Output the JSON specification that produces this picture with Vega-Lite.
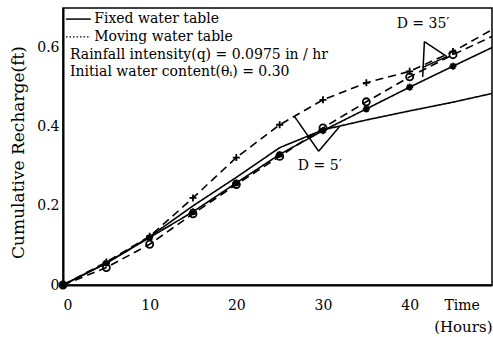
{
  "$schema": "https://vega.github.io/schema/vega-lite/v6.json",
  "width": 429,
  "height": 277,
  "autosize": "none",
  "padding": {"left": 63, "top": 8, "right": 1, "bottom": 52},
  "background": "white",
  "config": {
    "font": "DejaVu Serif",
    "view": {"stroke": "black", "strokeWidth": 1.5},
    "axis": {"grid": false, "domainColor": "black", "domainWidth": 2, "ticks": false, "labelColor": "black", "titleColor": "black", "labelFont": "DejaVu Serif", "titleFont": "DejaVu Serif", "labelFontSize": 13, "titleFontWeight": "normal"}
  },
  "datasets": {
    "curves": [
      {"series": "D5_moving", "t": 0, "r": 0}, {"series": "D5_moving", "t": 5, "r": 0.058}, {"series": "D5_moving", "t": 10, "r": 0.123}, {"series": "D5_moving", "t": 15, "r": 0.22}, {"series": "D5_moving", "t": 20, "r": 0.322}, {"series": "D5_moving", "t": 25, "r": 0.405}, {"series": "D5_moving", "t": 30, "r": 0.468}, {"series": "D5_moving", "t": 35, "r": 0.511}, {"series": "D5_moving", "t": 40, "r": 0.54}, {"series": "D5_moving", "t": 45, "r": 0.59}, {"series": "D5_moving", "t": 49.5, "r": 0.645},
      {"series": "D35_moving", "t": 0, "r": 0}, {"series": "D35_moving", "t": 5, "r": 0.044}, {"series": "D35_moving", "t": 10, "r": 0.103}, {"series": "D35_moving", "t": 15, "r": 0.18}, {"series": "D35_moving", "t": 20, "r": 0.254}, {"series": "D35_moving", "t": 25, "r": 0.325}, {"series": "D35_moving", "t": 30, "r": 0.397}, {"series": "D35_moving", "t": 35, "r": 0.463}, {"series": "D35_moving", "t": 40, "r": 0.526}, {"series": "D35_moving", "t": 45, "r": 0.582}, {"series": "D35_moving", "t": 49.5, "r": 0.628},
      {"series": "D35_fixed", "t": 0, "r": 0}, {"series": "D35_fixed", "t": 5, "r": 0.055}, {"series": "D35_fixed", "t": 10, "r": 0.12}, {"series": "D35_fixed", "t": 15, "r": 0.185}, {"series": "D35_fixed", "t": 20, "r": 0.258}, {"series": "D35_fixed", "t": 25, "r": 0.33}, {"series": "D35_fixed", "t": 30, "r": 0.39}, {"series": "D35_fixed", "t": 35, "r": 0.445}, {"series": "D35_fixed", "t": 40, "r": 0.5}, {"series": "D35_fixed", "t": 45, "r": 0.553}, {"series": "D35_fixed", "t": 49.5, "r": 0.6},
      {"series": "D5_fixed", "t": 0, "r": 0}, {"series": "D5_fixed", "t": 5, "r": 0.055}, {"series": "D5_fixed", "t": 10, "r": 0.122}, {"series": "D5_fixed", "t": 15, "r": 0.2}, {"series": "D5_fixed", "t": 20, "r": 0.272}, {"series": "D5_fixed", "t": 25, "r": 0.347}, {"series": "D5_fixed", "t": 30, "r": 0.392}, {"series": "D5_fixed", "t": 32, "r": 0.402}, {"series": "D5_fixed", "t": 35, "r": 0.417}, {"series": "D5_fixed", "t": 40, "r": 0.44}, {"series": "D5_fixed", "t": 45, "r": 0.462}, {"series": "D5_fixed", "t": 49.5, "r": 0.484}
    ],
    "pointers": [
      {"t1": 26.7, "r1": 0.426, "t2": 29.5, "r2": 0.338},
      {"t1": 29.5, "r1": 0.338, "t2": 31.9, "r2": 0.4},
      {"t1": 41.7, "r1": 0.615, "t2": 41.5, "r2": 0.526},
      {"t1": 41.7, "r1": 0.615, "t2": 44.3, "r2": 0.577},
      {"t1": 44.3, "r1": 0.577, "t2": 41.5, "r2": 0.55}
    ],
    "legendSolid": [{"t1": 0.35, "t2": 3.2, "r": 0.672}],
    "legendDotted": [{"t1": 0.35, "t2": 3.2, "r": 0.627}],
    "texts": [
      {"t": 3.6, "r": 0.672, "txt": "Fixed water table"},
      {"t": 3.6, "r": 0.627, "txt": "Moving water table"},
      {"t": 0.8, "r": 0.582, "txt": "Rainfall intensity(q) = 0.0975 in / hr"},
      {"t": 0.8, "r": 0.539, "txt": "Initial water content(θᵢ) = 0.30"},
      {"t": 27.1, "r": 0.3, "txt": "D = 5′"},
      {"t": 38.5, "r": 0.66, "txt": "D = 35′"}
    ]
  },
  "layer": [
    {
      "data": {"name": "curves"},
      "mark": {"type": "line", "color": "black", "strokeWidth": 1.6},
      "encoding": {
        "x": {"field": "t", "type": "quantitative", "scale": {"domain": [0, 49.5], "nice": false}, "axis": {"values": [0, 10, 20, 30, 40, 46], "labelExpr": "datum.value == 46 ? 'Time' : datum.label", "labelPadding": 13, "labelFontSize": 14, "title": "(Hours)", "titleFontSize": 15, "titleAnchor": "end", "titleAlign": "right", "titleX": 429, "titleY": 46, "titleBaseline": "alphabetic"}},
        "y": {"field": "r", "type": "quantitative", "scale": {"domain": [0, 0.7], "nice": false}, "axis": {"values": [0, 0.2, 0.4, 0.6], "format": ".1~f", "labelPadding": 4, "labelFontSize": 14, "title": "Cumulative Recharge(ft)", "titleFontSize": 17, "titleX": -45, "titleY": 144, "titleAngle": -90, "titleAlign": "center", "titleBaseline": "middle"}},
        "detail": {"field": "series"},
        "strokeDash": {"field": "series", "type": "nominal", "scale": {"domain": ["D5_moving", "D35_moving", "D35_fixed", "D5_fixed"], "range": [[8, 5], [8, 5], [1, 0], [1, 0]]}, "legend": null}
      }
    },
    {
      "data": {"name": "curves"},
      "transform": [{"filter": "datum.series != 'D5_fixed' && datum.t < 49"}],
      "mark": {"type": "point", "color": "black", "strokeWidth": 1.8, "size": 50, "opacity": 1},
      "encoding": {
        "x": {"field": "t", "type": "quantitative"},
        "y": {"field": "r", "type": "quantitative"},
        "shape": {"field": "series", "type": "nominal", "scale": {"domain": ["D5_moving", "D35_moving", "D35_fixed"], "range": ["M-1,0L1,0M0,-1L0,1", "circle", "M-1,0L1,0M0,-1L0,1M-0.7,-0.7L0.7,0.7M-0.7,0.7L0.7,-0.7"]}, "legend": null}
      }
    },
    {
      "data": {"name": "pointers"},
      "mark": {"type": "rule", "color": "black", "strokeWidth": 1.5},
      "encoding": {
        "x": {"field": "t1", "type": "quantitative"},
        "y": {"field": "r1", "type": "quantitative"},
        "x2": {"field": "t2"},
        "y2": {"field": "r2"}
      }
    },
    {
      "data": {"name": "legendSolid"},
      "mark": {"type": "rule", "color": "black", "strokeWidth": 1.5},
      "encoding": {
        "x": {"field": "t1", "type": "quantitative"},
        "x2": {"field": "t2"},
        "y": {"field": "r", "type": "quantitative"}
      }
    },
    {
      "data": {"name": "legendDotted"},
      "mark": {"type": "rule", "color": "black", "strokeWidth": 1.2, "strokeDash": [1.5, 2]},
      "encoding": {
        "x": {"field": "t1", "type": "quantitative"},
        "x2": {"field": "t2"},
        "y": {"field": "r", "type": "quantitative"}
      }
    },
    {
      "data": {"name": "texts"},
      "mark": {"type": "text", "align": "left", "baseline": "middle", "fontSize": 14, "font": "DejaVu Serif", "color": "black"},
      "encoding": {
        "x": {"field": "t", "type": "quantitative"},
        "y": {"field": "r", "type": "quantitative"},
        "text": {"field": "txt"}
      }
    }
  ]
}
